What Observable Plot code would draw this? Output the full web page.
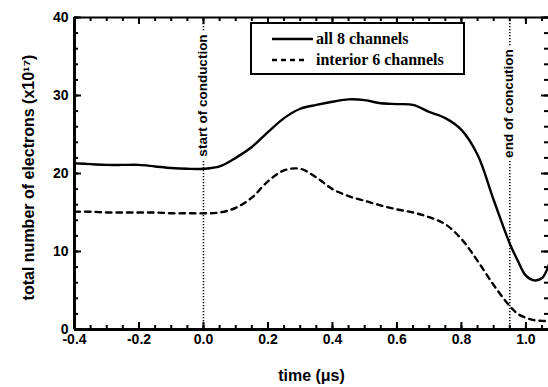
<!DOCTYPE html>
<html><head><meta charset="utf-8">
<script src="https://cdn.jsdelivr.net/npm/d3@7"></script>
<script src="https://cdn.jsdelivr.net/npm/@observablehq/plot@0.6"></script>
<style>
body{margin:0;background:#fff;}
#wrap{position:relative;width:548px;height:387px;overflow:hidden;}
#legend{position:absolute;left:250px;top:22px;width:211px;height:49px;border:2px solid #000;background:#fff;
  font-family:"Liberation Serif","Times New Roman",serif;font-weight:bold;font-size:16px;color:#000;}
.row{position:absolute;left:0;height:20px;display:flex;align-items:center;}
.row svg{margin-left:20px;margin-right:4px;}
</style></head>
<body><div id="wrap"></div>
<script>
const time = [-0.4,-0.35,-0.3,-0.25,-0.2,-0.15,-0.1,-0.05,0,0.05,0.1,0.15,0.2,0.25,0.3,0.35,0.4,0.45,0.5,0.55,0.6,0.65,0.7,0.75,0.8,0.85,0.9,0.95,0.975,1.0,1.025,1.05,1.07];
const allChannels = [21.3,21.2,21.1,21.1,21.1,20.9,20.7,20.6,20.6,20.9,22.0,23.4,25.3,27.1,28.3,28.8,29.2,29.5,29.4,29.0,28.9,28.8,27.9,27.1,25.6,22.4,16.6,11.0,8.8,6.9,6.3,6.6,8.2];
const interiorChannels = [15.1,15.1,15.0,15.0,15.0,15.0,14.9,14.9,14.9,15.0,15.6,16.9,19.0,20.4,20.6,19.5,18.0,17.1,16.5,15.9,15.4,15.0,14.4,13.5,11.6,8.8,5.7,3.0,2.0,1.5,1.2,1.1,1.1];
const seriesNames = ["all 8 channels", "interior 6 channels"];
const eventTimes = [0.0, 0.95];
const eventLabels = ["start of conduction", "end of concution"];
const xTicks = [-0.4,-0.2,0.0,0.2,0.4,0.6,0.8,1.0];
const xTickLabels = ["-0.4","-0.2","0.0","0.2","0.4","0.6","0.8","1.0"];
const yTicks = [0,10,20,30,40];
const yTickLabels = ["0","10","20","30","40"];
const xDomain = [-0.4, 1.07];
const yDomain = [0, 40];
const xLabel = "time (μs)";
const yLabel = "total number of electrons (x10¹⁷)";

const xMinor = d3.range(0, 30).map(i => +(xDomain[0] + i*0.05).toFixed(3)).filter(v => v <= xDomain[1]);
const yMinor = d3.range(0, 21).map(i => i*2);

const W = 548, H = 387, mL = 74, mR = 0, mT = 17, mB = 58;
const fw = W - mL - mR, fh = H - mT - mB;

const rowsAll = time.map((t,i) => ({t, v: allChannels[i]}));
const rowsInt = time.map((t,i) => ({t, v: interiorChannels[i]}));
const events = eventTimes.map((t,i) => ({t, label: eventLabels[i]}));

const tickFont = {fontSize: 14, fontWeight: "bold", fontFamily: "Liberation Sans, Arial, sans-serif"};
const annoStyle = {x: "t", text: "label", frameAnchor: "top", rotate: -90, textAnchor: "middle", dx: -6,
  fontSize: 13.5, fontWeight: "bold", fill: "#000", stroke: "#fff", strokeWidth: 7, paintOrder: "stroke"};

const chart = Plot.plot({
  width: W, height: H, marginLeft: mL, marginRight: mR, marginTop: mT, marginBottom: mB,
  style: {background: "#fff", color: "#000", fontFamily: "Liberation Sans, Arial, sans-serif"},
  x: {domain: xDomain},
  y: {domain: yDomain},
  marks: [
    Plot.ruleX(events, {x: "t", stroke: "#000", strokeWidth: 1.5, strokeDasharray: "1.3,1.7"}),
    Plot.text([events[0]], {...annoStyle, dy: 78}),
    Plot.text([events[1]], {...annoStyle, dy: 86}),
    Plot.tickX(xMinor, {x: d => d, insetTop: fh - 4, strokeWidth: 2}),
    Plot.tickX(xTicks, {x: d => d, insetTop: fh - 7, strokeWidth: 2}),
    Plot.tickX(xMinor, {x: d => d, insetBottom: fh - 4, strokeWidth: 2}),
    Plot.tickX(xTicks, {x: d => d, insetBottom: fh - 7, strokeWidth: 2}),
    Plot.tickY(yMinor, {y: d => d, insetRight: fw - 4, strokeWidth: 2}),
    Plot.tickY(yTicks, {y: d => d, insetRight: fw - 7, strokeWidth: 2}),
    Plot.tickY(yMinor, {y: d => d, insetLeft: fw - 4, strokeWidth: 2}),
    Plot.tickY(yTicks, {y: d => d, insetLeft: fw - 7, strokeWidth: 2}),
    Plot.ruleY([yDomain[1]], {stroke: "#000", strokeWidth: 2}),
    Plot.ruleX([xDomain[0]], {stroke: "#000", strokeWidth: 3}),
    Plot.ruleY([yDomain[0]], {stroke: "#000", strokeWidth: 3}),
    Plot.axisX({anchor: "bottom", ticks: xTicks, tickSize: 0, tickPadding: 5, label: null,
      tickFormat: (d) => xTickLabels[xTicks.indexOf(d)] ?? "", ...tickFont}),
    Plot.axisY({anchor: "left", ticks: yTicks, tickSize: 0, tickPadding: 6, label: null,
      tickFormat: (d) => yTickLabels[yTicks.indexOf(d)] ?? "", ...tickFont}),
    Plot.text([xLabel], {frameAnchor: "bottom", dy: 51, fontSize: 16, fontWeight: "bold", fill: "#000"}),
    Plot.text([yLabel], {x: [xDomain[0]], y: [d3.mean(yDomain)], dx: -46, dy: 4, rotate: -90, textAnchor: "middle",
      fontSize: 16, fontWeight: "bold", fill: "#000"}),
    Plot.line(rowsInt, {x: "t", y: "v", stroke: "#000", strokeWidth: 2.4, strokeDasharray: "5.5,5", curve: "catmull-rom"}),
    Plot.line(rowsAll, {x: "t", y: "v", stroke: "#000", strokeWidth: 2.4, curve: "catmull-rom"})
  ]
});
const wrap = document.getElementById("wrap");
wrap.appendChild(chart);

const legend = document.createElement("div");
legend.id = "legend";
const dashes = [null, "5,4"];
const widths = [41, 35];
seriesNames.forEach((name, i) => {
  const row = document.createElement("div");
  row.className = "row";
  row.style.top = (i === 0 ? 5 : 26) + "px";
  row.innerHTML = `<svg width="${widths[i]}" height="6" style="margin-right:${44 - widths[i]}px"><line x1="0" x2="${widths[i]}" y1="3" y2="3" stroke="#000" stroke-width="2.4" ${dashes[i] ? `stroke-dasharray="${dashes[i]}"` : ""}/></svg><span>${name}</span>`;
  legend.appendChild(row);
});
wrap.appendChild(legend);
</script></body></html>
